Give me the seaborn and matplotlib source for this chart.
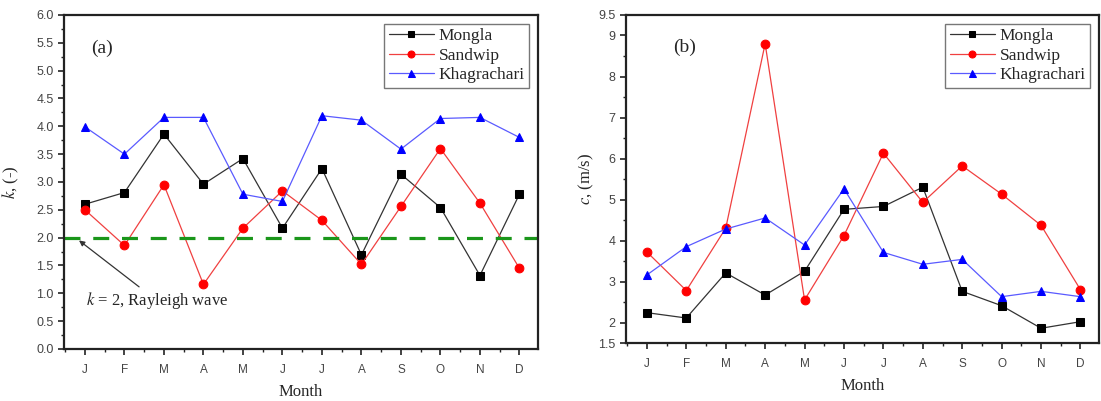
import numpy as np
import pandas as pd
import seaborn as sns
import matplotlib.pyplot as plt
from matplotlib.ticker import MultipleLocator, FixedLocator

months = ["J", "F", "M", "A", "M", "J", "J", "A", "S", "O", "N", "D"]
stations = ["Mongla", "Sandwip", "Khagrachari"]

# shape factor k
k_mongla = [2.60, 2.81, 3.86, 2.96, 3.42, 2.17, 3.24, 1.69, 3.14, 2.54, 1.32, 2.78]
k_sandwip = [2.50, 1.86, 2.95, 1.16, 2.17, 2.84, 2.31, 1.52, 2.56, 3.60, 2.62, 1.45]
k_khag = [3.99, 3.50, 4.16, 4.16, 2.78, 2.65, 4.19, 4.11, 3.59, 4.14, 4.16, 3.80]

# scale factor c (m/s)
c_mongla = [2.24, 2.11, 3.21, 2.67, 3.25, 4.76, 4.83, 5.30, 2.76, 2.41, 1.86, 2.02]
c_sandwip = [3.72, 2.78, 4.30, 8.80, 2.55, 4.12, 6.13, 4.93, 5.82, 5.13, 4.37, 2.80]
c_khag = [3.16, 3.85, 4.28, 4.55, 3.89, 5.26, 3.71, 3.42, 3.54, 2.63, 2.76, 2.63]

colors = {"Mongla": "black", "Sandwip": "red", "Khagrachari": "blue"}
markers = {"Mongla": "s", "Sandwip": "o", "Khagrachari": "^"}
line_colors = {"Mongla": "#333333", "Sandwip": "#f04040", "Khagrachari": "#5a5aff"}

sns.set_style("white")
plt.rcParams["mathtext.fontset"] = "stix"
serif = ["Liberation Serif", "DejaVu Serif"]
sans = ["Liberation Sans", "DejaVu Sans"]

def long_df(a, b, c):
    return pd.DataFrame({
        "idx": list(range(12)) * 3,
        "val": a + b + c,
        "station": [s for s in stations for _ in range(12)],
    })

df_k = long_df(k_mongla, k_sandwip, k_khag)
df_c = long_df(c_mongla, c_sandwip, c_khag)

fig = plt.figure(figsize=(11.01, 4.01), dpi=100)
ax1 = fig.add_axes([64 / 1101, 0.1297, 474 / 1101, 0.833])
ax2 = fig.add_axes([626 / 1101, 0.1446, 473 / 1101, 0.818])

def draw(ax, df):
    for s in stations:
        d = df[df["station"] == s]
        sns.lineplot(data=d, x="idx", y="val", ax=ax, color=line_colors[s], lw=0.9,
                     marker=markers[s], markersize=6.3 if s != "Mongla" else 5.6,
                     markerfacecolor=colors[s], markeredgecolor=colors[s],
                     label=s, legend=False)
    ax.set_xlim(-0.53, 11.47)
    ax.xaxis.set_major_locator(FixedLocator(range(12)))
    ax.xaxis.set_minor_locator(FixedLocator(np.arange(-0.5, 12, 1.0)))
    ax.set_xticklabels(months, family=sans, fontsize=8.5, color="#444444")
    for sp in ax.spines.values():
        sp.set_color("#222222")
        sp.set_linewidth(1.6)
    ax.tick_params(which="major", direction="out", length=4.5, width=1.2, color="#222222",
                   bottom=True, left=True, top=False, right=False, pad=6)
    ax.tick_params(which="minor", direction="out", length=2.5, width=1.0, color="#222222",
                   bottom=True, left=True, top=False, right=False)
    ax.set_xlabel("Month", family=serif, fontsize=12, labelpad=6)
    leg = ax.legend(loc="upper right", prop={"family": serif, "size": 12.5},
                    frameon=True, fancybox=False, handlelength=2.6, borderpad=0.25,
                    labelspacing=0.2, handletextpad=0.3, borderaxespad=0.5,
                    markerscale=0.8)
    leg.get_frame().set_edgecolor("#555555")
    leg.get_frame().set_linewidth(1.0)

draw(ax1, df_k)
draw(ax2, df_c)

# panel (a)
ax1.set_ylim(0, 6)
ax1.yaxis.set_minor_locator(MultipleLocator(0.25))
ax1.set_yticks(np.arange(0, 6.01, 0.5))
ax1.set_yticklabels([f"{v:.1f}" for v in np.arange(0, 6.01, 0.5)],
                    family=sans, fontsize=9, color="#444444")
ax1.tick_params(axis="y", pad=3)
ax1.set_ylabel(r"$k$, (-)", family=serif, fontsize=12)
ax1.yaxis.set_label_coords(-0.09, 0.5)
ax1.axhline(2.0, color="#1a961a", lw=2.3, ls=(0, (5, 4)))
ax1.text(0.058, 0.9, "(a)", transform=ax1.transAxes, family=serif, fontsize=14, va="center")
ax1.annotate(r"$k$ = 2, Rayleigh wave", xy=(-0.15, 1.95), xytext=(0.02, 0.68),
             fontsize=12, family=serif, va="bottom",
             arrowprops=dict(arrowstyle="-|>", color="#333333", lw=0.9,
                             shrinkA=0, shrinkB=0, mutation_scale=8))

# panel (b)
ax2.set_ylim(1.5, 9.5)
yt = [1.5, 2, 3, 4, 5, 6, 7, 8, 9, 9.5]
ax2.set_yticks(yt)
ax2.set_yticklabels(["1.5", "2", "3", "4", "5", "6", "7", "8", "9", "9.5"],
                    family=sans, fontsize=9, color="#444444")
ax2.yaxis.set_minor_locator(FixedLocator(np.arange(2.5, 9.0, 1.0)))
ax2.tick_params(axis="y", pad=3)
ax2.set_ylabel(r"$c$, (m/s)", family=serif, fontsize=12)
ax2.yaxis.set_label_coords(-0.064, 0.5)
ax2.text(0.1, 0.9, "(b)", transform=ax2.transAxes, family=serif, fontsize=14, va="center")

fig.savefig("out.png", dpi=100)
